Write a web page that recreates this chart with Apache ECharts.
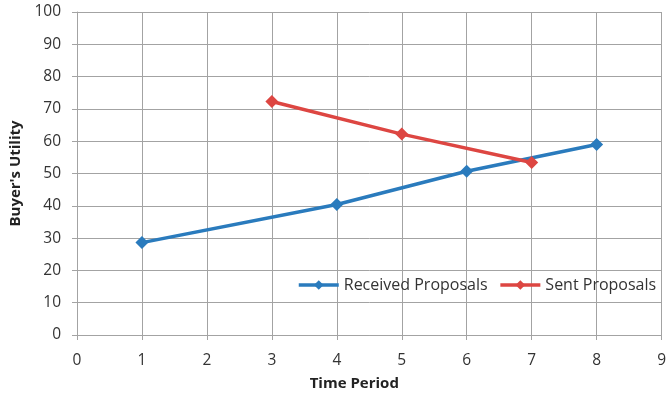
<!DOCTYPE html>
<html>
<head>
<meta charset="utf-8">
<script src="https://cdn.jsdelivr.net/npm/echarts@6/dist/echarts.min.js"></script>
<style>
  html, body { margin: 0; padding: 0; background: #fff; }
  #chart { width: 669px; height: 396px; }
</style>
</head>
<body>
<div id="chart"></div>
<script>
// Buyer's utility of proposals over negotiation time periods
const receivedPeriods = [1, 4, 6, 8];
const receivedUtility = [28.6, 40.4, 50.7, 59.0];
const sentPeriods = [3, 5, 7];
const sentUtility = [72.3, 62.2, 53.4];
const seriesNames = ['Received Proposals', 'Sent Proposals'];
const xTicks = [0, 1, 2, 3, 4, 5, 6, 7, 8, 9];
const yTicks = [0, 10, 20, 30, 40, 50, 60, 70, 80, 90, 100];

const pairs = (xs, ys) => xs.map((x, i) => [x, ys[i]]);

const font = 'Open Sans, DejaVu Sans, sans-serif';
const gridColor = '#a3a3a3';
const labelColor = '#333333';

const chart = echarts.init(document.getElementById('chart'));
chart.setOption({
  animation: false,
  backgroundColor: '#ffffff',
  grid: { left: 76, right: 4, top: 12, bottom: 60, containLabel: false },
  legend: {
    data: seriesNames,
    orient: 'horizontal',
    left: 297, top: 277, width: 372,
    padding: 0,
    itemWidth: 40, itemHeight: 12, itemGap: 11,
    lineStyle: { width: 3.5 },
    textStyle: { fontFamily: font, fontSize: 16, color: labelColor }
  },
  xAxis: {
    type: 'value',
    min: xTicks[0], max: xTicks[xTicks.length - 1], interval: 1,
    name: 'Time Period', nameLocation: 'middle', nameGap: 41,
    nameTextStyle: { fontFamily: font, fontSize: 15, fontWeight: 'bold', color: '#222222', padding: [0, 30, 0, 0] },
    axisLine: { show: true, lineStyle: { color: gridColor, width: 1 } },
    axisTick: { show: true, length: 5, lineStyle: { color: gridColor } },
    axisLabel: { fontFamily: font, fontSize: 15.5, color: labelColor, margin: 18 },
    splitLine: { show: true, lineStyle: { color: gridColor, width: 1 } }
  },
  yAxis: {
    type: 'value',
    min: yTicks[0], max: yTicks[yTicks.length - 1], interval: 10,
    name: "Buyer's Utility", nameLocation: 'middle', nameGap: 54,
    nameTextStyle: { fontFamily: font, fontSize: 15, fontWeight: 'bold', color: '#222222' },
    axisLine: { show: true, lineStyle: { color: gridColor, width: 1 } },
    axisTick: { show: true, length: 5, lineStyle: { color: gridColor } },
    axisLabel: { fontFamily: font, fontSize: 15.5, color: labelColor, margin: 16 },
    splitLine: { show: true, lineStyle: { color: gridColor, width: 1 } }
  },
  series: [
    {
      name: seriesNames[0], type: 'line',
      data: pairs(receivedPeriods, receivedUtility),
      symbol: 'diamond', symbolSize: 13,
      itemStyle: { color: '#2a7bbd' },
      lineStyle: { color: '#2a7bbd', width: 3.5 }
    },
    {
      name: seriesNames[1], type: 'line',
      data: pairs(sentPeriods, sentUtility),
      symbol: 'diamond', symbolSize: 13,
      itemStyle: { color: '#dd4642' },
      lineStyle: { color: '#dd4642', width: 3.5 }
    }
  ]
});
</script>
</body>
</html>
